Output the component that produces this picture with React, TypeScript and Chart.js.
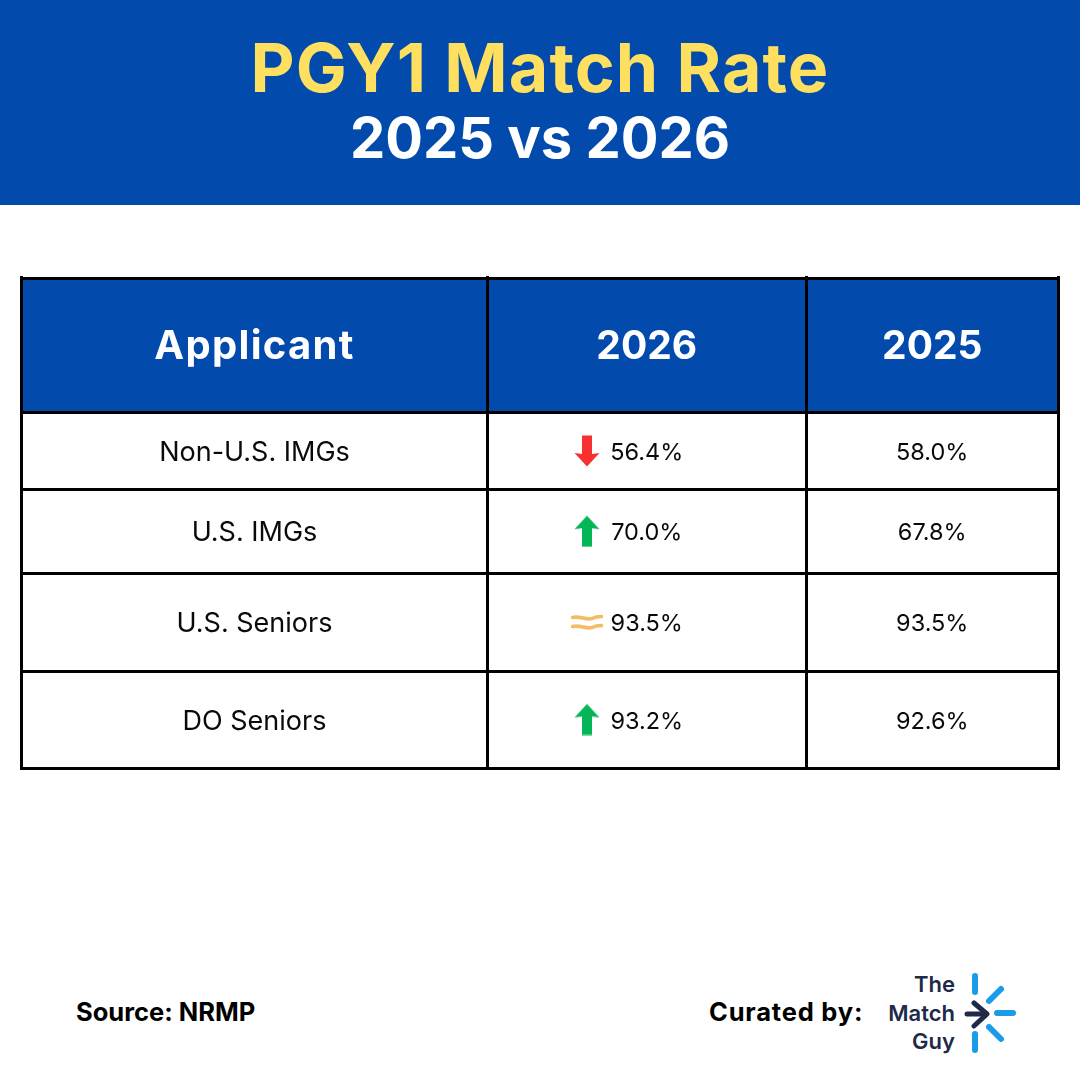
import { useEffect, useRef } from 'react'
import { Chart, registerables } from 'chart.js'

Chart.register(...registerables)

const columnHeaders = ['Applicant', '2026', '2025']
const applicants = ['Non-U.S. IMGs', 'U.S. IMGs', 'U.S. Seniors', 'DO Seniors']
const rate2026 = [56.4, 70.0, 93.5, 93.2]
const rate2025 = [58.0, 67.8, 93.5, 92.6]

// table geometry, in page pixels: the two axes run in these units
const columnEdges = [21.5, 487.5, 806, 1058.5]
const rowEdges = [278, 412.5, 489.5, 573, 671, 768]
const trendIconX = 587
const textNudge = 2 // Inter sits a little high on a 'middle' baseline

const FONT = 'Inter, "Noto Sans", sans-serif'
const BLUE = '#024bac'

const mid = (edges: number[], i: number) => (edges[i] + edges[i + 1]) / 2

function arrowIcon(color: string, up: boolean) {
  const c = document.createElement('canvas')
  c.width = 26
  c.height = 32
  const g = c.getContext('2d')!
  if (!up) {
    g.translate(0, 32)
    g.scale(1, -1)
  }
  g.fillStyle = color
  g.beginPath()
  g.moveTo(13, 0.5)
  g.lineTo(25.5, 14)
  g.lineTo(18, 13)
  g.lineTo(18, 31.5)
  g.lineTo(8, 31.5)
  g.lineTo(8, 13)
  g.lineTo(0.5, 14)
  g.closePath()
  g.fill()
  return c
}

function approxIcon() {
  const c = document.createElement('canvas')
  c.width = 32
  c.height = 18
  const g = c.getContext('2d')!
  g.strokeStyle = '#f2bd63'
  g.lineWidth = 3.6
  g.lineCap = 'round'
  for (const y of [4.5, 13.5]) {
    g.beginPath()
    g.moveTo(1.5, y)
    g.bezierCurveTo(9, y - 2, 15, y + 3, 21, y + 1)
    g.bezierCurveTo(25, y - 1, 28, y - 1, 30.5, y - 1)
    g.stroke()
  }
  return c
}

const tablePlugin = {
  id: 'tablePlugin',
  beforeDraw(chart: any) {
    const { ctx, scales } = chart
    ctx.save()
    ctx.fillStyle = '#ffffff'
    ctx.fillRect(0, 0, chart.width, chart.height)
    ctx.fillStyle = BLUE
    const left = scales.x.getPixelForValue(columnEdges[0])
    const right = scales.x.getPixelForValue(columnEdges[3])
    const top = scales.y.getPixelForValue(rowEdges[0])
    const bottom = scales.y.getPixelForValue(rowEdges[1])
    ctx.fillRect(left, top, right - left, bottom - top)
    ctx.restore()
  },
  afterDatasetsDraw(chart: any) {
    const { ctx, scales } = chart
    ctx.save()
    ctx.textAlign = 'center'
    ctx.textBaseline = 'middle'
    ctx.fillStyle = '#ffffff'
    columnHeaders.forEach((h, i) => {
      // the first header runs wider than the year labels in the reference
      ctx.font = `700 ${i === 0 ? 40 : 39}px ${FONT}`
      ctx.letterSpacing = i === 0 ? '1.3px' : '0px'
      ctx.fillText(h, scales.x.getPixelForValue(mid(columnEdges, i)), scales.y.getPixelForValue(mid(rowEdges, 0)) + textNudge)
    })
    ctx.letterSpacing = '0px'
    ctx.fillStyle = '#0a0a0a'
    applicants.forEach((a, i) => {
      const y = scales.y.getPixelForValue(mid(rowEdges, i + 1)) + textNudge
      ctx.font = `400 27px ${FONT}`
      ctx.fillText(a, scales.x.getPixelForValue(mid(columnEdges, 0)), y)
      ctx.font = `400 23.5px ${FONT}`
      ctx.fillText(`${rate2026[i].toFixed(1)}%`, scales.x.getPixelForValue(mid(columnEdges, 1)), y)
      ctx.fillText(`${rate2025[i].toFixed(1)}%`, scales.x.getPixelForValue(mid(columnEdges, 2)), y)
    })
    ctx.restore()
  },
}

function MatchTable() {
  const canvasRef = useRef<HTMLCanvasElement>(null)

  useEffect(() => {
    if (!canvasRef.current) return
    const up = arrowIcon('#05b659', true)
    const down = arrowIcon('#f8302f', false)
    const flat = approxIcon()
    const icons = rate2026.map((v, i) => (v > rate2025[i] ? up : v < rate2025[i] ? down : flat))

    const edgeTicks = (edges: number[]) => (scale: any) => {
      scale.ticks = edges.map((value) => ({ value }))
    }

    const chart = new Chart(canvasRef.current, {
      type: 'scatter',
      data: {
        datasets: [
          {
            label: 'Trend',
            data: rate2026.map((_, i) => ({ x: trendIconX, y: mid(rowEdges, i + 1) })),
            pointStyle: icons as any,
            pointRadius: 1,
            pointBorderWidth: 0,
          },
        ],
      },
      options: {
        animation: false,
        responsive: false,
        layout: { padding: 0, autoPadding: false },
        plugins: { legend: { display: false }, tooltip: { enabled: false } },
        scales: {
          x: {
            type: 'linear',
            min: 20,
            max: 1060,
            afterBuildTicks: edgeTicks(columnEdges),
            ticks: { display: false, autoSkip: false },
            grid: { color: '#000000', lineWidth: 3, drawTicks: false },
            border: { display: false },
          },
          y: {
            type: 'linear',
            reverse: true,
            min: 276,
            max: 770,
            afterBuildTicks: edgeTicks(rowEdges),
            ticks: { display: false, autoSkip: false },
            grid: { color: '#000000', lineWidth: 3, drawTicks: false },
            border: { display: false },
          },
        },
      },
      plugins: [tablePlugin],
    })
    return () => chart.destroy()
  }, [])

  return (
    <canvas
      ref={canvasRef}
      width={1040}
      height={494}
      style={{ position: 'absolute', left: 20, top: 276, width: 1040, height: 494 }}
    />
  )
}

function Logo() {
  const ray = '#1b9ce8'
  const navy = '#1e2a47'
  return (
    <svg width={80} height={90} viewBox="950 970 80 90" style={{ position: 'absolute', left: 950, top: 970 }}>
      <g stroke={ray} strokeWidth={6} strokeLinecap="round" fill="none">
        <line x1={975} y1={976} x2={975} y2={992} />
        <line x1={975} y1={1034} x2={975} y2={1050} />
        <line x1={997} y1={1013} x2={1013} y2={1013} />
        <line x1={989} y1={1001} x2={1001} y2={989} />
        <line x1={989} y1={1027} x2={1001} y2={1039} />
      </g>
      <g stroke={navy} strokeWidth={5} strokeLinecap="round" strokeLinejoin="round" fill="none">
        <line x1={967} y1={1014} x2={986} y2={1014} />
        <polyline points="974,1003 987,1014 974,1026" />
      </g>
    </svg>
  )
}

const textBase: React.CSSProperties = { position: 'absolute', whiteSpace: 'nowrap', fontFamily: FONT }

export default function App() {
  return (
    <div style={{ position: 'absolute', left: 0, top: 0, width: 1080, height: 1080, background: '#fff', overflow: 'hidden' }}>
      <div style={{ position: 'absolute', left: 0, top: 0, width: 1080, height: 205, background: BLUE }} />
      <div style={{ ...textBase, left: 0, width: 1080, top: 25, height: 84, lineHeight: '84px', textAlign: 'center', color: '#fedf5f', fontSize: 68, fontWeight: 700, letterSpacing: 1.1 }}>
        PGY1 Match Rate
      </div>
      <div style={{ ...textBase, left: 0, width: 1080, top: 100, height: 76, lineHeight: '76px', textAlign: 'center', color: '#fff', fontSize: 56, fontWeight: 700 }}>
        2025 vs 2026
      </div>
      <MatchTable />
      <div style={{ ...textBase, left: 76, top: 996, lineHeight: '32px', fontSize: 25.5, fontWeight: 700, color: '#000' }}>Source: NRMP</div>
      <div style={{ ...textBase, left: 709, top: 996, lineHeight: '32px', fontSize: 25.5, fontWeight: 700, letterSpacing: 0.8, color: '#000' }}>Curated by:</div>
      {['The', 'Match', 'Guy'].map((t, i) => (
        <div key={t} style={{ ...textBase, right: 125, top: 970 + i * 28.5, lineHeight: '28px', fontSize: 22, fontWeight: 600, color: '#1e2a47' }}>
          {t}
        </div>
      ))}
      <Logo />
    </div>
  )
}
